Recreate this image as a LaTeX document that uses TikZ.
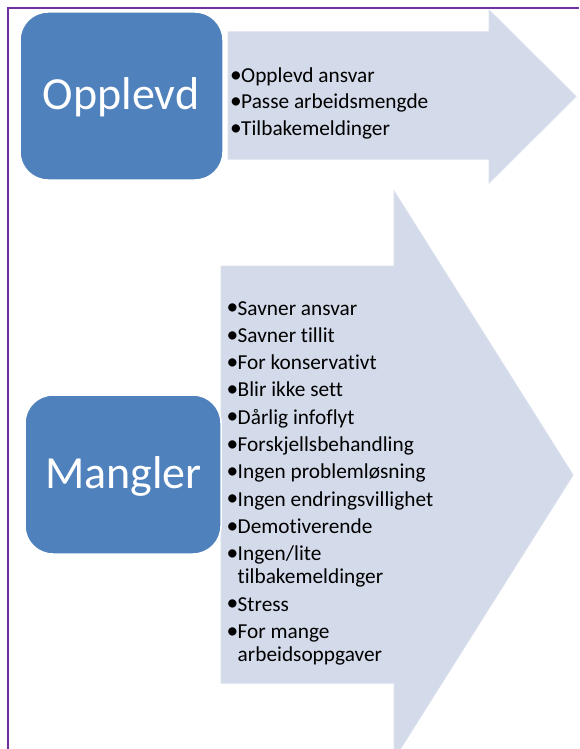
\documentclass[tikz,border=0pt]{standalone}
\usepackage{fontspec}
\setmainfont{Carlito}[Ligatures=NoCommon]
\definecolor{arrowfill}{HTML}{D3DAE9}
\definecolor{arrowedge}{HTML}{D9DFEC}
\definecolor{boxblue}{HTML}{4F81BD}
\definecolor{framepurple}{HTML}{7030A0}
\tikzset{
  bigbox/.style={fill=boxblue, draw=white, line width=1.5pt, rounded corners=28pt,
    inner sep=0pt},
  boxlabel/.style={text=white, font=\fontsize{46}{50}\selectfont, inner sep=0pt, anchor=base},
  bul/.style={anchor=base west, inner sep=0pt, font=\fontsize{21.3}{25}\selectfont, text=black},
  arrowshape/.style={fill=arrowfill, draw=arrowedge, line width=1pt}
}
\newcommand{\bitem}[1]{\makebox[11pt][l]{\raisebox{0.3pt}{\scalebox{1.1}{•}}}#1}
\newcommand{\bcont}[1]{\hspace*{11pt}#1}
\begin{document}
\begin{tikzpicture}[x=1pt,y=-1pt]
\useasboundingbox (0,0) rectangle (579,749);
\begin{scope}
\clip (0,0) rectangle (579,749);
\draw[arrowshape] (228,32) -- (489,32) -- (489,10) -- (576,96.5) -- (489,183) -- (489,159) -- (228,159) -- cycle;
\draw[arrowshape] (221,266) -- (394,266) -- (394,191) -- (573,475) -- (394,759) -- (394,683) -- (221,683) -- cycle;
\end{scope}
\draw[framepurple, line width=2pt] (8.3,749) -- (8.3,8.3) -- (579,8.3);

\node[bigbox, minimum width=203pt, minimum height=168pt] (b1) at (121.5,96) {};
\node[boxlabel] (l1) at (121,110) {Opplevd};
\node[bigbox, minimum width=196pt, minimum height=159pt] (b2) at (123,474.5) {};
\node[boxlabel] (l2) at (123.5,488) {Mangler};

\node[bul] (t1) at (230,82.5) {\bitem{Opplevd ansvar}};
\node[bul] (t2) at (230,109) {\bitem{Passe arbeidsmengde}};
\node[bul] (t3) at (230,135.5) {\bitem{Tilbakemeldinger}};

\node[bul] (m1) at (226.5,315) {\bitem{Savner ansvar}};
\node[bul] (m2) at (226.5,342.3) {\bitem{Savner tillit}};
\node[bul] (m3) at (226.5,369.6) {\bitem{For konservativt}};
\node[bul] (m4) at (226.5,396.9) {\bitem{Blir ikke sett}};
\node[bul] (m5) at (226.5,424.2) {\bitem{Dårlig infoflyt}};
\node[bul] (m6) at (226.5,451.5) {\bitem{Forskjellsbehandling}};
\node[bul] (m7) at (226.5,478.8) {\bitem{Ingen problemløsning}};
\node[bul] (m8) at (226.5,506.1) {\bitem{Ingen endringsvillighet}};
\node[bul] (m9) at (226.5,533.4) {\bitem{Demotiverende}};
\node[bul] (m10) at (226.5,560.7) {\bitem{Ingen/lite}};
\node[bul] (m10b) at (226.5,583.7) {\bcont{tilbakemeldinger}};
\node[bul] (m11) at (226.5,611) {\bitem{Stress}};
\node[bul] (m12) at (226.5,638.3) {\bitem{For mange}};
\node[bul] (m12b) at (226.5,661.3) {\bcont{arbeidsoppgaver}};
\end{tikzpicture}
\end{document}
